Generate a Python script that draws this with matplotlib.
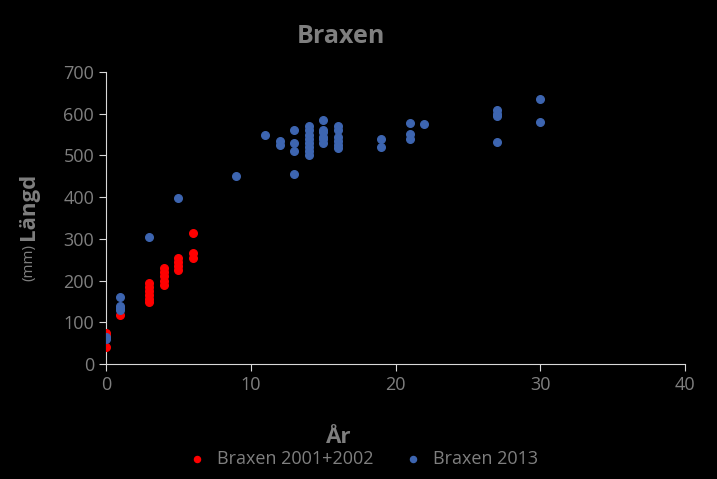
import matplotlib
matplotlib.use("Agg")
import matplotlib.pyplot as plt

red_x = [0,0,0,1,3,3,3,3,3,3,4,4,4,4,4,5,5,5,5,6,6,6]
red_y = [75,70,40,118,195,185,175,165,155,148,230,220,210,200,190,255,245,235,225,315,265,255]
blue_x = [0,0,1,1,1,1,3,5,9,11,12,12,13,13,13,13,14,14,14,14,14,14,14,14,
          15,15,15,15,15,15,16,16,16,16,16,16,19,19,21,21,21,22,27,27,27,27,30,30]
blue_y = [60,65,160,140,135,130,305,397,450,548,535,525,562,530,510,455,570,560,550,540,530,520,510,500,
          585,560,555,545,540,530,570,560,545,535,525,518,540,520,578,552,540,576,608,600,595,533,636,580]

grey = "#7f7f7f"
plt.rcParams['font.family'] = ['Open Sans', 'DejaVu Sans']
fig = plt.figure(figsize=(7.17, 4.79), dpi=100, facecolor="black")
ax = fig.add_axes([106/717, 1-364/479, (685-106)/717, (364-72)/479], facecolor="black")
ax.scatter(red_x, red_y, s=30, color="#ff0000", label="Braxen 2001+2002", zorder=3)
ax.scatter(blue_x, blue_y, s=30, color="#3d65b0", label="Braxen 2013", zorder=3)
ax.set_xlim(0, 40); ax.set_ylim(0, 700)
ax.set_xticks(range(0, 41, 10)); ax.set_yticks(range(0, 701, 100))
for s in ["top", "right"]:
    ax.spines[s].set_visible(False)
for s in ["left", "bottom"]:
    ax.spines[s].set_color("#d9d9d9")
ax.tick_params(colors="#d9d9d9", labelcolor=grey, labelsize=13, length=5, direction="out")
fig.text(0.476, 0.91, "Braxen", color=grey, fontsize=18, fontweight="bold", ha="center")
fig.text(0.473, 0.075, "År", color=grey, fontsize=16, fontweight="bold", ha="center")
fig.text(0.04, 0.50, "Längd", color=grey, fontsize=16, fontweight="bold", rotation=90, va="bottom", ha="center")
fig.text(0.04, 0.49, "(mm)", color=grey, fontsize=11, rotation=90, va="top", ha="center")
fig.legend(loc="lower center", bbox_to_anchor=(0.5, -0.01), ncol=2, frameon=False,
           labelcolor=grey, fontsize=13, handletextpad=0.1, columnspacing=1.2, markerscale=0.8)
fig.savefig("out.png", dpi=100, facecolor="black")
